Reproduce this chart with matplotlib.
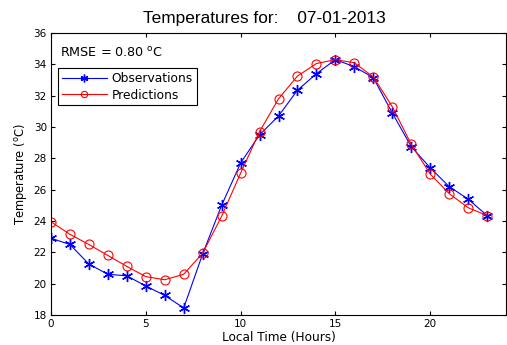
import matplotlib
matplotlib.use('Agg')
import matplotlib.pyplot as plt
import numpy as np

plt.rcParams['font.family'] = ['DejaVu Sans']

hours = np.arange(24)
observations = [22.9, 22.5, 21.25, 20.6, 20.5, 19.85, 19.25, 18.45, 21.9, 25.0, 27.7, 29.5,
                30.7, 32.35, 33.4, 34.3, 33.85, 33.15, 30.9, 28.75, 27.4, 26.2, 25.4, 24.35]
predictions = [23.95, 23.15, 22.5, 21.8, 21.1, 20.45, 20.25, 20.6, 21.95, 24.3, 27.05, 29.7,
               31.8, 33.25, 34.05, 34.3, 34.1, 33.2, 31.3, 28.9, 27.0, 25.75, 24.85, 24.35]
rmse = 0.80
date = '07-01-2013'

fig = plt.figure(figsize=(5.07, 3.45), dpi=100)
ax = fig.add_axes([51/507, 30/345, 455/507, 282/345])

# matlab style asterisk for observations, open circles for predictions
ax.plot(hours, observations, color='blue', marker=(6, 2, 0), markersize=8, markeredgewidth=1.0,
        linewidth=0.8, label='Observations')
ax.plot(hours, predictions, color='red', marker='o', markersize=6.5, markerfacecolor='none',
        markeredgewidth=0.8, linewidth=0.8, label='Predictions')

ax.set_xlim(0, 24)
ax.set_ylim(18, 36)
ax.set_xticks([0, 5, 10, 15, 20])
ax.set_yticks(np.arange(18, 37, 2))
ax.tick_params(direction='in', top=True, right=True, labelsize=7.5, length=3, pad=3)
for s in ax.spines.values():
    s.set_linewidth(0.8)

fig.text(264/507, 1 - 18/345, 'Temperatures for:    ' + date, fontsize=12.4,
         family='Liberation Sans', ha='center', va='center')
ax.set_xlabel('Local Time (Hours)', fontsize=8.7, labelpad=1)
ax.set_ylabel('Temperature ($^{\\mathrm{o}}$C)', fontsize=8.3, labelpad=3)
ax.text(0.02, 0.955, 'RMSE = %.2f $^{\\mathrm{o}}$C' % rmse, transform=ax.transAxes,
        fontsize=9.2, va='top', ha='left')

leg = ax.legend(loc='upper left', bbox_to_anchor=(7/455, 0.875), fontsize=8.8, fancybox=False,
                framealpha=1, edgecolor='black', borderpad=0.3, labelspacing=0.3,
                handlelength=3.7, handletextpad=0.4, borderaxespad=0, markerscale=0.7)
leg.get_frame().set_linewidth(0.8)

fig.savefig('out.png', dpi=100)
